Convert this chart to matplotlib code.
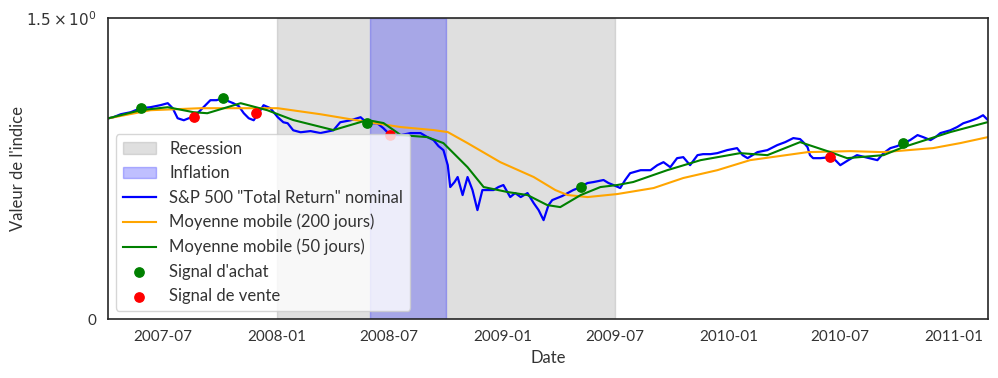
import matplotlib
matplotlib.use("Agg")
import matplotlib.pyplot as plt
import pandas as pd

plt.rcParams['font.family'] = ['Lato', 'DejaVu Sans']
plt.rcParams['text.color'] = '#333333'
plt.rcParams['axes.labelcolor'] = '#333333'
plt.rcParams['xtick.color'] = '#333333'
plt.rcParams['ytick.color'] = '#333333'

# S&P 500 total return, normalised
sp_dates = [
    "2007-04-03", "2007-04-12", "2007-04-24", "2007-05-10", "2007-05-26", "2007-06-11",
    "2007-06-27", "2007-07-09", "2007-07-17", "2007-07-25", "2007-08-04", "2007-08-12",
    "2007-08-20", "2007-08-31", "2007-09-16", "2007-09-26", "2007-10-07", "2007-10-15",
    "2007-10-23", "2007-11-01", "2007-11-09", "2007-11-17", "2007-11-25", "2007-12-03",
    "2007-12-11", "2007-12-22", "2008-01-03", "2008-01-12", "2008-01-19", "2008-01-28",
    "2008-02-09", "2008-02-25", "2008-03-12", "2008-04-02", "2008-04-13", "2008-04-30",
    "2008-05-16", "2008-05-27", "2008-06-12", "2008-06-22", "2008-07-03", "2008-07-20",
    "2008-08-05", "2008-08-21", "2008-09-01", "2008-09-11", "2008-09-19", "2008-09-27",
    "2008-10-04", "2008-10-08", "2008-10-15", "2008-10-20", "2008-10-28", "2008-11-05",
    "2008-11-13", "2008-11-21", "2008-11-29", "2008-12-07", "2008-12-17", "2008-12-25",
    "2009-01-02", "2009-01-13", "2009-01-21", "2009-01-30", "2009-02-10", "2009-02-20",
    "2009-02-28", "2009-03-08", "2009-03-16", "2009-03-22", "2009-03-30", "2009-04-07",
    "2009-04-16", "2009-04-25", "2009-05-07", "2009-05-18", "2009-05-28", "2009-06-13",
    "2009-06-21", "2009-06-29", "2009-07-10", "2009-07-18", "2009-07-26", "2009-08-12",
    "2009-08-28", "2009-09-08", "2009-09-18", "2009-09-29", "2009-10-10", "2009-10-20",
    "2009-10-31", "2009-11-12", "2009-11-21", "2009-12-03", "2009-12-14", "2009-12-30",
    "2010-01-15", "2010-01-24", "2010-02-01", "2010-02-17", "2010-03-05", "2010-03-21",
    "2010-04-03", "2010-04-16", "2010-04-27", "2010-05-02", "2010-05-09", "2010-05-13",
    "2010-05-18", "2010-05-30", "2010-06-15", "2010-06-23", "2010-07-01", "2010-07-14",
    "2010-07-28", "2010-08-10", "2010-08-30", "2010-09-09", "2010-09-20", "2010-10-01",
    "2010-10-11", "2010-10-22", "2010-11-03", "2010-11-12", "2010-11-24", "2010-12-02",
    "2010-12-10", "2010-12-26", "2011-01-06", "2011-01-16", "2011-01-27", "2011-02-08",
    "2011-02-17", "2011-02-25",
]
sp_values = [
    1.000, 1.006, 1.021, 1.031, 1.051, 1.056,
    1.066, 1.076, 1.051, 1.001, 0.991, 1.001,
    1.006, 1.041, 1.091, 1.091, 1.101, 1.086,
    1.076, 1.061, 1.026, 1.001, 0.991, 1.026,
    1.066, 1.051, 1.006, 0.981, 0.976, 0.941,
    0.931, 0.937, 0.927, 0.941, 0.981, 0.991,
    1.006, 0.976, 0.976, 0.951, 0.917, 0.917,
    0.927, 0.927, 0.907, 0.892, 0.862, 0.842,
    0.767, 0.658, 0.683, 0.708, 0.618, 0.708,
    0.643, 0.543, 0.643, 0.643, 0.643, 0.658,
    0.668, 0.608, 0.628, 0.608, 0.628, 0.578,
    0.543, 0.493, 0.568, 0.593, 0.603, 0.613,
    0.628, 0.643, 0.658, 0.678, 0.683, 0.693,
    0.678, 0.668, 0.653, 0.693, 0.727, 0.742,
    0.742, 0.767, 0.782, 0.757, 0.802, 0.807,
    0.767, 0.817, 0.822, 0.822, 0.827, 0.842,
    0.852, 0.817, 0.802, 0.832, 0.842, 0.867,
    0.882, 0.902, 0.897, 0.882, 0.857, 0.817,
    0.802, 0.802, 0.807, 0.792, 0.767, 0.792,
    0.817, 0.807, 0.792, 0.827, 0.852, 0.862,
    0.877, 0.892, 0.917, 0.907, 0.892, 0.907,
    0.927, 0.941, 0.957, 0.976, 0.987, 1.001,
    1.016, 0.991,
]

# 200-day moving average
ma200_dates = [
    "2007-04-03", "2007-06-11", "2007-08-31", "2007-11-19", "2008-01-03", "2008-03-12",
    "2008-05-27", "2008-07-20", "2008-09-11", "2008-10-04", "2008-11-05", "2008-12-28",
    "2009-02-20", "2009-03-27", "2009-04-16", "2009-05-18", "2009-07-05", "2009-09-02",
    "2009-10-20", "2009-12-14", "2010-02-05", "2010-05-09", "2010-07-17", "2010-09-09",
    "2010-11-28", "2011-01-11", "2011-02-25",
]
ma200_values = [
    1.000, 1.041, 1.051, 1.051, 1.051, 1.021,
    0.982, 0.957, 0.942, 0.932, 0.877, 0.782,
    0.708, 0.643, 0.618, 0.608, 0.623, 0.653,
    0.703, 0.742, 0.792, 0.832, 0.837, 0.832,
    0.852, 0.877, 0.907,
]

# 50-day moving average
ma50_dates = [
    "2007-04-03", "2007-05-26", "2007-07-09", "2007-08-20", "2007-09-11", "2007-11-04",
    "2007-12-17", "2008-01-28", "2008-04-02", "2008-05-27", "2008-06-22", "2008-07-20",
    "2008-09-01", "2008-09-27", "2008-11-05", "2008-12-01", "2009-01-09", "2009-02-10",
    "2009-03-14", "2009-04-04", "2009-05-07", "2009-06-08", "2009-07-05", "2009-07-31",
    "2009-09-24", "2009-11-17", "2010-01-20", "2010-03-05", "2010-04-27", "2010-06-15",
    "2010-07-12", "2010-09-09", "2010-10-11", "2010-12-26", "2011-02-25",
]
ma50_values = [
    1.000, 1.041, 1.056, 1.031, 1.026, 1.076,
    1.041, 0.992, 0.942, 0.992, 0.977, 0.917,
    0.907, 0.877, 0.757, 0.658, 0.633, 0.618,
    0.568, 0.558, 0.618, 0.658, 0.668, 0.683,
    0.742, 0.792, 0.827, 0.817, 0.882, 0.832,
    0.802, 0.817, 0.857, 0.932, 0.982,
]

buy_dates = ["2007-05-26", "2007-10-07", "2008-05-27", "2009-05-07", "2010-10-11"]
buy_values = [1.051, 1.101, 0.977, 0.658, 0.877]
sell_dates = ["2007-08-20", "2007-11-28", "2008-07-03", "2010-06-15"]
sell_values = [1.006, 1.026, 0.917, 0.807]

recession = ("2008-01-01", "2009-07-01")
inflation = ("2008-06-01", "2008-10-01")

fig, ax = plt.subplots(figsize=(9.98, 3.78), dpi=100)
fig.subplots_adjust(left=0.108, right=0.99, top=0.952, bottom=0.156)

ax.axvspan(pd.Timestamp(recession[0]), pd.Timestamp(recession[1]),
           color='gray', alpha=0.25, label='Recession')
ax.axvspan(pd.Timestamp(inflation[0]), pd.Timestamp(inflation[1]),
           color='blue', alpha=0.25, label='Inflation')

ax.plot(pd.to_datetime(sp_dates), sp_values, color='blue', lw=1.6,
        label='S&P 500 "Total Return" nominal')
ax.plot(pd.to_datetime(ma200_dates), ma200_values, color='orange', lw=1.5,
        label='Moyenne mobile (200 jours)')
ax.plot(pd.to_datetime(ma50_dates), ma50_values, color='green', lw=1.5,
        label='Moyenne mobile (50 jours)')
ax.scatter(pd.to_datetime(buy_dates), buy_values, color='green', s=45, zorder=5,
           label="Signal d'achat")
ax.scatter(pd.to_datetime(sell_dates), sell_values, color='red', s=45, zorder=5,
           label='Signal de vente')

ax.set_yscale('symlog')
ax.set_ylim(0, 1.5)
ax.set_yticks([0, 1.5])
ax.set_yticklabels(['0', r'$1.5\times10^{0}$'])
ax.set_xlim(pd.Timestamp("2007-04-03"), pd.Timestamp("2011-02-25"))
ax.set_xticks(pd.to_datetime(["2007-07-01", "2008-01-01", "2008-07-01", "2009-01-01",
                              "2009-07-01", "2010-01-01", "2010-07-01", "2011-01-01"]))
ax.set_xticklabels(["2007-07", "2008-01", "2008-07", "2009-01",
                    "2009-07", "2010-01", "2010-07", "2011-01"])
ax.tick_params(length=0, labelsize=11, pad=8)

ax.set_xlabel('Date', fontsize=12)
ax.set_ylabel("Valeur de l'indice", fontsize=12)
ax.yaxis.set_label_coords(-0.093, 0.5)
for s in ax.spines.values():
    s.set_color('#262626')
    s.set_linewidth(1.2)

ax.legend(loc='lower left', fontsize=12, framealpha=0.8)

fig.savefig('out.png', dpi=100)
